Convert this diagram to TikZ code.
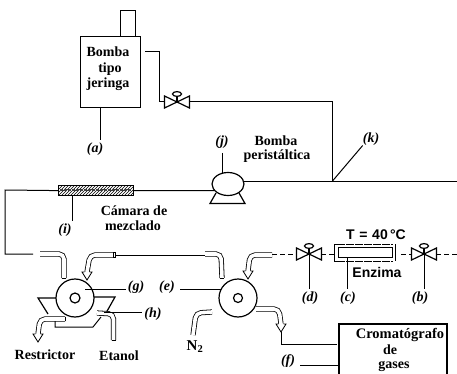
\documentclass[tikz,border=0pt]{standalone}
\usepackage{fontspec}
\setmainfont{Liberation Serif}
\setsansfont{Liberation Sans}
\usetikzlibrary{patterns,shapes.geometric}
\tikzset{
  ln/.style={draw=black,line width=1pt},
  faint/.style={draw=black,line width=0.8pt,dash pattern=on 5pt off 3pt},
  pipe/.style={draw=black,line width=0.8pt,double=white,double distance=3.6pt,rounded corners=5pt},
  tipa/.style={draw=black,line width=0.8pt,fill=white},
  txt/.style={font=\fontsize{14}{14}\selectfont\bfseries,inner sep=0pt,align=center},
  lab/.style={font=\fontsize{14}{14}\selectfont\bfseries\itshape,inner sep=0pt},
  sans/.style={font=\fontsize{14}{14}\selectfont\sffamily\bfseries,inner sep=0pt},
  wheel/.style={circle,draw=black,line width=1.2pt,fill=white,inner sep=0pt},
  boxx/.style={draw=black,line width=1.2pt,inner sep=0pt,anchor=north west}
}
\newcommand{\valveat}[2]{%
  \draw[line width=1.2pt,fill=white] (#1-12.5,#2-6) -- (#1+12.5,#2+6) -- (#1+12.5,#2-6) -- (#1-12.5,#2+6) -- cycle;
  \draw[line width=1.2pt] (#1,#2) -- (#1,#2-7);
  \draw[line width=1.2pt,fill=white] (#1,#2-8) ellipse (4.5pt and 2.4pt);
}
\newcommand{\tipdown}[2]{%
  \draw[tipa] (#1-2.6,#2-8) -- (#1-5,#2-8) -- (#1,#2) -- (#1+5,#2-8) -- (#1+2.6,#2-8);
}
\begin{document}
\begin{tikzpicture}[x=1pt,y=-1pt]
\useasboundingbox (0,0) rectangle (457,374);

% syringe pump
\node[boxx,minimum width=60pt,minimum height=71pt] (syr) at (80,36) {};
\node[boxx,minimum width=15pt,minimum height=26pt] (plunger) at (120,10) {};
\node[txt] (t1) at (108,52) {Bomba};
\node[txt] (t2) at (110,69) {tipo};
\node[txt] (t3) at (108,84) {jeringa};
\coordinate (syrout) at (145,52);
\coordinate (kj) at (332.5,181);
\coordinate (end1) at (457,181);
\draw[ln] (syrout) -- (159,52) -- (159,102) -- (165,102);
\valveat{177}{102}
\draw[ln] (189,102) -- (332.5,102) -- (kj);
\node[lab] (la) at (95,149) {(a)};
\draw[ln] (100,107) -- (100,140);

% peristaltic pump
\draw[line width=1.2pt] (216,193) -- (210,203.5) -- (245,203.5) -- (239,193);
\node[ellipse,draw=black,line width=1.2pt,fill=white,inner sep=0pt,minimum width=32pt,minimum height=23pt] (pump) at (228,184) {};
\coordinate (pumpL) at (214.5,190.5);
\node[lab] (lj) at (222,142) {(j)};
\draw[ln] (222,153) -- (222,172.5);
\node[txt] (t4) at (276,141) {Bomba};
\node[txt] (t5) at (277,156) {peristáltica};
\draw[ln] (244,181) -- (end1);
\node[lab] (lk) at (371,139) {(k)};
\draw[ln] (kj) -- (lk.south west);

% mixing chamber
\node[boxx,minimum width=75pt,minimum height=10pt,pattern=north east lines] (cham) at (58,185) {};
\draw[line width=2.6pt,black!75,dash pattern=on 3pt off 1pt] (60,190) -- (131,190);
\node[txt] (t6) at (134,211) {Cámara de};
\node[txt] (t7) at (133,226) {mezclado};
\node[lab] (li) at (65,230) {(i)};
\draw[ln] (72,195) -- (72,221);
\draw[ln] (cham.east) -- (pumpL);
\draw[ln] (cham.west) -- (5,190) -- (5,254) -- (33,254);

% left valve
\draw[line width=1.2pt] (48,314) -- (38,298) -- (57,298);
\draw[line width=1.2pt] (94,297) -- (115,297) -- (106,313);
\draw[ln] (55,320) -- (55,327) -- (93,327) -- (101,317);
\node[wheel,minimum size=38pt] (vl) at (75,298) {};
\node[circle,draw=black,line width=1.2pt,minimum size=10pt,inner sep=0pt] (vli) at (75,298) {};
\draw[pipe] (40,254) -- (64,254) -- (64,278);
\draw[line width=.8pt] (62,278.5) -- (66,278.5);
\draw[pipe] (113,255) -- (90,255) -- (87,272);
\tipdown{87}{280}
\draw[line width=.8pt,fill=white] (113,252.5) rectangle (115,257.5);
\draw[ln] (115,255) -- (200,255);
\draw[faint] (200,255) -- (205,255);
\draw[ln] (85,289) -- (126,289);
\node[lab] (lg) at (136,287) {(g)};
\draw[pipe] (65,319) -- (40,319) -- (38,334);
\draw[line width=.8pt] (65,316.8) -- (65,321.2);
\tipdown{38}{342}
\draw[pipe] (97,313) -- (113.5,314) -- (113.5,340);
\draw[line width=.8pt] (111.5,340) -- (115.5,340);
\draw[ln] (104,312) -- (142,312);
\node[lab] (lh) at (153,314) {(h)};
\node[txt] (t8) at (45,355) {Restrictor};
\node[txt] (t9) at (119,356) {Etanol};

% right valve
\node[lab] (le) at (167,287) {(e)};
\draw[ln] (180,289) -- (226,289);
\draw[pipe] (205,254) -- (221,254) -- (222,278);
\draw[line width=.8pt] (220,278.5) -- (224,278.5);
\node[wheel,minimum size=38pt] (vr) at (238,298) {};
\node[circle,draw=black,line width=1.2pt,minimum size=9pt,inner sep=0pt] (vri) at (238,298) {};
\draw[pipe] (272,255) -- (250,255) -- (248,271);
\tipdown{248}{279}
\draw[pipe] (212,312) -- (196,313) -- (193,335);
\node[font=\fontsize{15}{15}\selectfont\bfseries,inner sep=0pt] (n2) at (195,347) {N$_{\mathbf 2}$};
\draw[pipe] (256,309) -- (279,309) -- (281,324);
\tipdown{281}{332}

% gas chromatograph
\coordinate (gctl) at (339,324);
\draw[line width=1.3pt] (339,374) -- (gctl) -- (447,324) -- (447,374);
\node[font=\fontsize{14.5}{15}\selectfont\bfseries,inner sep=0pt] (t10) at (400,335) {Cromatógrafo};
\node[txt] (t11) at (390,350) {de};
\node[txt] (t12) at (394,366.5) {gases};
\draw[ln] (281,332) -- (281,344) -- (337,344);
\node[lab] (lf) at (288,361) {(f)};
\draw[ln] (300,365) -- (338,365);

% upper right line of valves
\draw[faint] (272,254) -- (297,254);
\valveat{309}{254}
\draw[faint] (321,254) -- (334,254);
\draw[line width=.7pt,dash pattern=on 8pt off 1pt] (337,244) -- (393,244);
\draw[line width=.7pt,dash pattern=on 8pt off 1pt] (337,261) -- (393,261);
\draw[line width=1pt] (337,244) -- (334,244) -- (334,261) -- (337,261);
\draw[line width=1pt] (395,244) -- (395,261);
\node[boxx,minimum width=54pt,minimum height=10pt] (enz) at (338,247) {};
\node[sans] (t13) at (376,235) {T\,\,=\,\,40\,°C};
\node[sans] (t14) at (377,272) {Enzima};
\draw[ln] (347,257) -- (347,289);
\draw[ln] (309,254) -- (309,289);
\node[lab] (ld) at (310,298) {(d)};
\node[lab] (lc) at (348,298) {(c)};
\draw[faint] (401,254) -- (412,254);
\valveat{424}{254}
\draw[ln] (424,254) -- (424,289);
\node[lab] (lb) at (420,298) {(b)};
\draw[faint] (436,254) -- (457,254);
\end{tikzpicture}
\end{document}
